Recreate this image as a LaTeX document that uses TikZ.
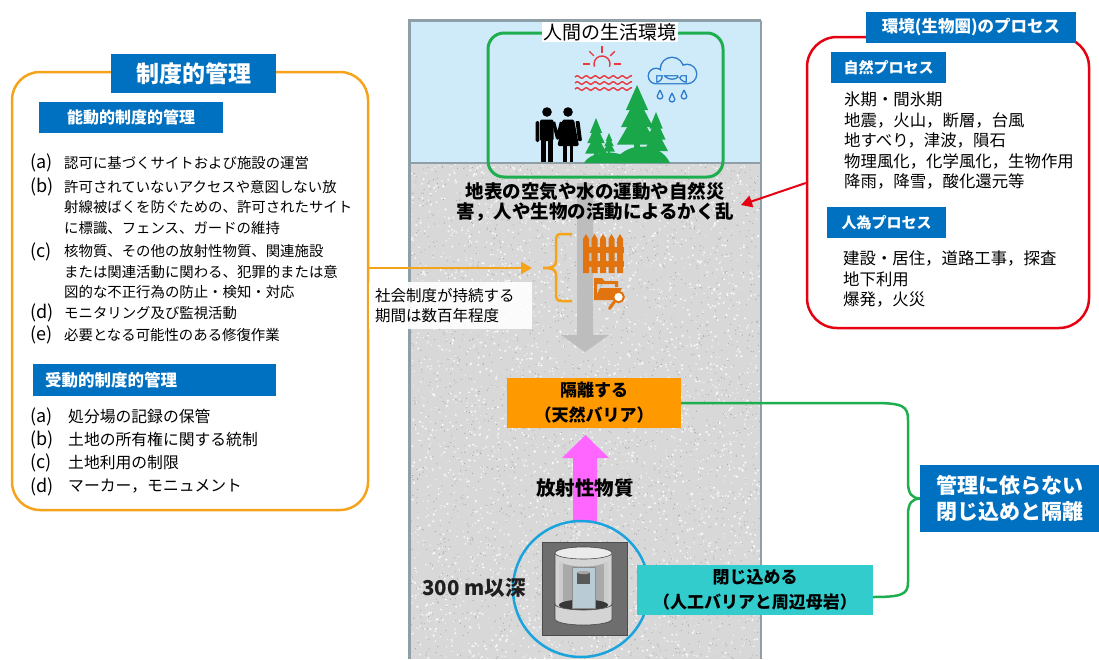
\documentclass[tikz,border=0pt]{standalone}
\usepackage{fontspec}
\setmainfont{Noto Sans CJK JP}
\usetikzlibrary{arrows.meta}

\definecolor{boxblue}{HTML}{0070C0}
\definecolor{ctrlorange}{HTML}{F5A31A}
\definecolor{isoorange}{HTML}{FF9900}
\definecolor{iconorange}{HTML}{E2740F}
\definecolor{envred}{HTML}{E50012}
\definecolor{lifegreen}{HTML}{1EAE4F}
\definecolor{treegreen}{HTML}{19A74A}
\definecolor{skyblue}{HTML}{CFEAF8}
\definecolor{granite}{HTML}{D8D8D8}
\definecolor{speck}{HTML}{A9A9A9}
\definecolor{colborder}{HTML}{8E9FA8}
\definecolor{ringblue}{HTML}{1BA3DD}
\definecolor{radpink}{HTML}{FF66FF}
\definecolor{confteal}{HTML}{33CCCC}
\definecolor{sunred}{HTML}{E8393F}
\definecolor{cloudblue}{HTML}{2E7CCB}
\definecolor{greyarrow}{HTML}{BDBDBD}
\definecolor{shellgrey}{HTML}{D4D4D4}
\definecolor{cutgrey}{HTML}{A9A9A9}
\definecolor{colblue}{HTML}{B9CCD6}

% a conifer: centre x, top y, height, width
\newcommand{\conifer}[4]{%
  \fill[treegreen] (#1,#2) -- (#1+0.28*#4,#2+0.36*#3) -- (#1-0.28*#4,#2+0.36*#3) -- cycle;
  \fill[treegreen] (#1,#2+0.16*#3) -- (#1+0.4*#4,#2+0.6*#3) -- (#1-0.4*#4,#2+0.6*#3) -- cycle;
  \fill[treegreen] (#1,#2+0.36*#3) -- (#1+0.5*#4,#2+0.85*#3) -- (#1-0.5*#4,#2+0.85*#3) -- cycle;
  \fill[treegreen] (#1-0.07*#4,#2+0.8*#3) rectangle (#1+0.07*#4,#2+#3);
}

\begin{document}
\begin{tikzpicture}[x=1pt,y=-1pt,
  titlebox/.style={fill=boxblue, text=white, inner sep=0pt, align=center},
  item/.style={anchor=north west, inner sep=0pt, align=left, font=\fontsize{14.4}{20.5}\selectfont},
  itemlabel/.style={anchor=west, inner sep=0pt, font=\fontsize{18}{20}\selectfont},
  pitem/.style={anchor=north west, inner sep=0pt, align=left, font=\fontsize{15.8}{23}\selectfont},
  envitem/.style={anchor=north west, inner sep=0pt, align=left, font=\fontsize{16.4}{20.5}\selectfont},
  barrier/.style={inner sep=0pt, align=center, font=\bfseries\fontsize{17}{25}\selectfont},
  ctrlline/.style={ctrlorange, line width=2.5pt},
  bracket/.style={lifegreen, line width=2.5pt},
]
\useasboundingbox (0,0) rectangle (1099,659);

% ---------- geological column ----------
\fill[skyblue] (408,20) rectangle (762,163);
\begin{scope}
  \clip (408,163) rectangle (762,659);
  \fill[granite] (408,163) rectangle (762,659);
  \pgfmathsetseed{4217}
  \foreach \i in {1,...,3400}{
    \pgfmathsetmacro{\px}{408+354*rnd}
    \pgfmathsetmacro{\py}{163+496*rnd}
    \pgfmathsetmacro{\pr}{0.5+0.8*rnd}
    \fill[white, opacity=0.8] (\px,\py) circle (\pr);
  }
  \foreach \i in {1,...,2200}{
    \pgfmathsetmacro{\px}{408+354*rnd}
    \pgfmathsetmacro{\py}{163+496*rnd}
    \fill[speck] (\px,\py) circle (0.6);
  }
\end{scope}
\draw[colborder, line width=1.5pt] (408,163) -- (762,163);
\draw[colborder, line width=3pt] (409.5,659) -- (409.5,20.5) -- (761,20.5);
\draw[colborder, line width=2pt] (761,20.5) -- (761,659);

% ---------- living environment ----------
\node[draw=lifegreen, line width=3pt, rounded corners=16pt, minimum width=235pt, minimum height=144pt] (lifebox) at (605.5,105) {};
\node[fill=white, inner sep=1.5pt, font=\fontsize{19}{22}\selectfont] (lifelabel) at (610,32) {人間の生活環境};

% sun over the sea
\begin{scope}[shift={(602,64)}, yscale=-1, sunred, line width=1.4pt]
  \draw (200:8) arc[start angle=200, end angle=-20, radius=8];
  \foreach \a in {45,90,135} \draw (\a:11.5) -- (\a:18);
  \draw (-19,0) -- (-12,0);
  \draw (12,0) -- (19,0);
  \foreach \yy in {-13,-19,-25}
    \draw plot[domain=-27:30, samples=50, smooth] (\x, {\yy+1.2*sin(\x*40)});
\end{scope}

% rain cloud
\begin{scope}[shift={(672,71)}, yscale=-1]
  \draw[cloudblue, line width=2.8pt] (-16,-5) circle (7) (0,2) circle (11) (15,-3) circle (9) (-16,-12) rectangle (15,-4);
  \fill[skyblue] (-16,-5) circle (7) (0,2) circle (11) (15,-3) circle (9) (-16,-12) rectangle (15,-4);
\end{scope}
\foreach \dx/\dy in {660/95, 672/98, 684/95}{
  \begin{scope}[shift={(\dx,\dy)}, yscale=-1]
    \draw[cloudblue, line width=1.3pt] (0,5) .. controls (0.5,2.5) and (2.8,0.5) .. (2.8,-1.2)
      arc[start angle=0, end angle=-180, radius=2.8] .. controls (-2.8,0.5) and (-0.5,2.5) .. (0,5);
  \end{scope}
}

% two people
\begin{scope}[black]
  \fill (547,112) circle (4.8);
  \fill[rounded corners=2pt] (540,119.5) rectangle (553.5,141);
  \fill[rounded corners=1.5pt] (535.5,121) rectangle (539.3,142);
  \fill (541,139) rectangle (546,162);
  \fill (547.5,139) rectangle (552.5,162);
  \fill (568,112) circle (4.8);
  \fill[rounded corners=1.5pt] (562.5,119.5) -- (574,119.5) -- (579,146) -- (557.5,146) -- cycle;
  \fill (563,145) rectangle (566.5,162);
  \fill (569.5,145) rectangle (573,162);
  \fill[rounded corners=1pt] (575.5,121) -- (579.5,121) -- (582,141) -- (578,141) -- cycle;
  \draw[line width=3.4pt, line join=round] (553.5,122) -- (557.5,138) -- (561.5,122);
\end{scope}

% trees and hills
\conifer{656}{112}{46}{24}
\conifer{637}{85}{70}{40}
\conifer{596}{118}{42}{22}
\conifer{609}{133}{22}{12}
\fill[treegreen] (584,163) .. controls (592,149) and (624,149) .. (633,163) -- cycle;
\fill[treegreen] (614,163) .. controls (624,141) and (660,141) .. (670,163) -- cycle;

% ---------- disturbance from the surface ----------
\fill[greyarrow] (577,183) -- (593,183) -- (593,335) -- (609,335) -- (585,352) -- (561,335) -- (577,335) -- cycle;
\node[inner sep=0pt, align=center, font=\bfseries\fontsize{18.5}{20.5}\selectfont] (disturb) at (595,202)
  {地表の空気や水の運動や自然災\\害，人や生物の活動によるかく乱};
\coordinate (disturbtip) at (741,205);

% fence icon
\foreach \cx in {586,594.5,603,611.5,620}
  \fill[iconorange] (\cx-3,273) -- (\cx-3,239) -- (\cx,234) -- (\cx+3,239) -- (\cx+3,273) -- cycle;
\fill[iconorange] (582.5,247) rectangle (623.5,253);
\fill[iconorange] (582.5,261) rectangle (623.5,267);

% folder with magnifier icon
\fill[iconorange] (594,278) -- (602,278) -- (604.5,281) -- (618,281) -- (618,287) -- (615,287) -- (615,284) -- (597,284) -- (597,296) -- (594,300) -- cycle;
\fill[iconorange] (600,288) -- (622,288) -- (615,300) -- (594,300) -- cycle;
\draw[iconorange, line width=2pt, fill=white] (618.5,297) circle (5.3);
\draw[iconorange, line width=3pt, line cap=round] (614.5,301.5) -- (609.5,308.5);

% brace of the institutional period
\draw[ctrlline] (572,234) -- (562,234) .. controls (557,234) and (556,236) .. (556,241) -- (556,261)
  .. controls (556,266) and (553,268) .. (543,268) .. controls (553,268) and (556,270) .. (556,275)
  -- (556,294) .. controls (556,299) and (557,301) .. (562,301) -- (572,301);

% ---------- barriers ----------
\node[fill=isoorange, minimum width=174pt, minimum height=50pt, barrier] (isolate) at (594,403) {隔離する\\（天然バリア）};

\fill[radpink] (573,522) -- (573,458) -- (562,458) -- (585.5,435) -- (609,458) -- (597,458) -- (597,522) -- cycle;
\node[inner sep=0pt, font=\bfseries\fontsize{19.5}{22}\selectfont] (radlabel) at (585,488) {放射性物質};

\node[draw=ringblue, line width=2.5pt, circle, minimum size=136pt, inner sep=0pt] (ring) at (581,589) {};

% waste package in the buffer
\fill[black!57, draw=black!70, line width=0.8pt] (542,542) rectangle (627,635);
\fill[shellgrey, draw=black!70, line width=0.6pt] (555,553) -- (555,619)
  arc[start angle=180, end angle=0, x radius=28.5, y radius=6] -- (612,553)
  arc[start angle=0, end angle=-180, x radius=28.5, y radius=6] -- cycle;
\draw[black!70, fill=black!8, line width=0.6pt] (583.5,553) ellipse [x radius=28.5, y radius=6];
\fill[cutgrey] (559,562) .. controls (572,568) and (595,568) .. (608,562) -- (608,608) -- (559,608) -- cycle;
\fill[black!20] (559,562) rectangle (563,608);
\fill[black!20] (604,562) rectangle (608,608);
\fill[black!78] (583.5,605) ellipse [x radius=24.5, y radius=5.5];
\fill[colblue, draw=black!45, line width=0.4pt] (572,567) rectangle (595,608);
\fill[black!65] (577,572) rectangle (590,584);
\fill[black!35] (583.5,572.5) ellipse [x radius=6.5, y radius=1.6];
\fill[shellgrey, draw=black!70, line width=0.6pt] (555,604)
  arc[start angle=180, end angle=0, x radius=28.5, y radius=6] -- (612,619)
  arc[start angle=0, end angle=180, x radius=28.5, y radius=6] -- cycle;

\node[inner sep=0pt, text=black!88, font=\bfseries\fontsize{20.5}{22}\selectfont] (depth) at (474,588) {300 m以深};

\node[fill=confteal, minimum width=236pt, minimum height=50pt, barrier] (confine) at (755,590) {閉じ込める\\（人工バリアと周辺母岩）};

% ---------- passive safety ----------
\node[titlebox, minimum width=179pt, minimum height=67pt, font=\bfseries\fontsize{21}{26}\selectfont] (nonmgmt) at (1009.5,498.5)
  {管理に依らない\\閉じ込めと隔離};
\draw[bracket] (isolate.east) -- (873,403) .. controls (903,403) and (908,406) .. (908,420) -- (908,482)
  .. controls (908,494) and (912,498) .. (nonmgmt.west);
\draw[bracket] ([yshift=-7pt]confine.east) .. controls (903,597) and (908,594) .. (908,582) -- (908,515)
  .. controls (908,503) and (912,499) .. (nonmgmt.west);

% ---------- institutional control ----------
\node[draw=ctrlorange, line width=2.5pt, rounded corners=28pt, minimum width=356pt, minimum height=438pt] (ctrlbox) at (190,291) {};
\node[titlebox, minimum width=165pt, minimum height=39pt, font=\bfseries\fontsize{23}{26}\selectfont] (ctrltitle) at (193.5,73.5) {制度的管理};
\node[titlebox, minimum width=184pt, minimum height=31pt, font=\bfseries\fontsize{16}{18}\selectfont] (activetitle) at (131,117.5) {能動的制度的管理};

\node[itemlabel] (la) at (30,163) {(a)};
\node[item] (ta) at (64,155.8) {認可に基づくサイトおよび施設の運営};
\node[itemlabel] (lb) at (30,187) {(b)};
\node[item] (tb) at (64,179.8) {許可されていないアクセスや意図しない放\\射線被ばくを防ぐための、許可されたサイト\\に標識、フェンス、ガードの維持};
\node[itemlabel] (lc) at (30,251.5) {(c)};
\node[item] (tc) at (64,244.3) {核物質、その他の放射性物質、関連施設\\または関連活動に関わる、犯罪的または意\\図的な不正行為の防止・検知・対応};
\node[itemlabel] (ld) at (30,313) {(d)};
\node[item] (td) at (64,305.8) {モニタリング及び監視活動};
\node[itemlabel] (le) at (30,335) {(e)};
\node[item] (te) at (64,327.8) {必要となる可能性のある修復作業};

\node[titlebox, minimum height=32pt, text width=219pt, inner xsep=12pt, align=left, font=\bfseries\fontsize{16.5}{18}\selectfont] (passivetitle) at (154.5,380) {受動的制度的管理};

\node[itemlabel] (pla) at (30,417) {(a)};
\node[pitem] (pta) at (68,409.2) {処分場の記録の保管};
\node[itemlabel] (plb) at (30,440) {(b)};
\node[pitem] (ptb) at (68,432.2) {土地の所有権に関する統制};
\node[itemlabel] (plc) at (30,463) {(c)};
\node[pitem] (ptc) at (68,455.2) {土地利用の制限};
\node[itemlabel] (pld) at (30,487) {(d)};
\node[pitem] (ptd) at (68,479.2) {マーカー，モニュメント};

\coordinate (ctrltip) at (532,268);
\draw[ctrlline, -{Triangle[length=11pt, width=12pt]}] (ctrlbox.east |- ctrltip) -- (ctrltip);
\node[fill=white, fill opacity=0.92, text opacity=1, anchor=north west, inner xsep=6pt, inner ysep=6pt, text width=151pt, align=left, font=\fontsize{15.5}{20}\selectfont] (duration) at (369,282)
  {社会制度が持続する\\期間は数百年程度};

% ---------- biosphere processes ----------
\node[draw=envred, line width=2.5pt, rounded corners=30pt, minimum width=282pt, minimum height=291pt] (envbox) at (948,182.5) {};
\node[titlebox, minimum width=210pt, minimum height=31pt, font=\bfseries\fontsize{16.5}{18}\selectfont] (envtitle) at (971,27.5) {環境(生物圏)のプロセス};
\node[titlebox, minimum width=115pt, minimum height=31pt, font=\bfseries\fontsize{15}{17}\selectfont] (nattitle) at (888.5,67.5) {自然プロセス};
\node[envitem] (nattext) at (844,91.8) {氷期・間氷期\\地震，火山，断層，台風\\地すべり，津波，隕石\\物理風化，化学風化，生物作用\\降雨，降雪，酸化還元等};
\node[titlebox, minimum width=119pt, minimum height=31pt, font=\bfseries\fontsize{15}{17}\selectfont] (humtitle) at (886.5,222.5) {人為プロセス};
\node[envitem] (humtext) at (843,250.8) {建設・居住，道路工事，探査\\地下利用\\爆発，火災};

\draw[envred, line width=2pt, -{Triangle[length=11pt, width=12pt]}] (envbox.west |- 0,183) -- (disturbtip);

\end{tikzpicture}
\end{document}
